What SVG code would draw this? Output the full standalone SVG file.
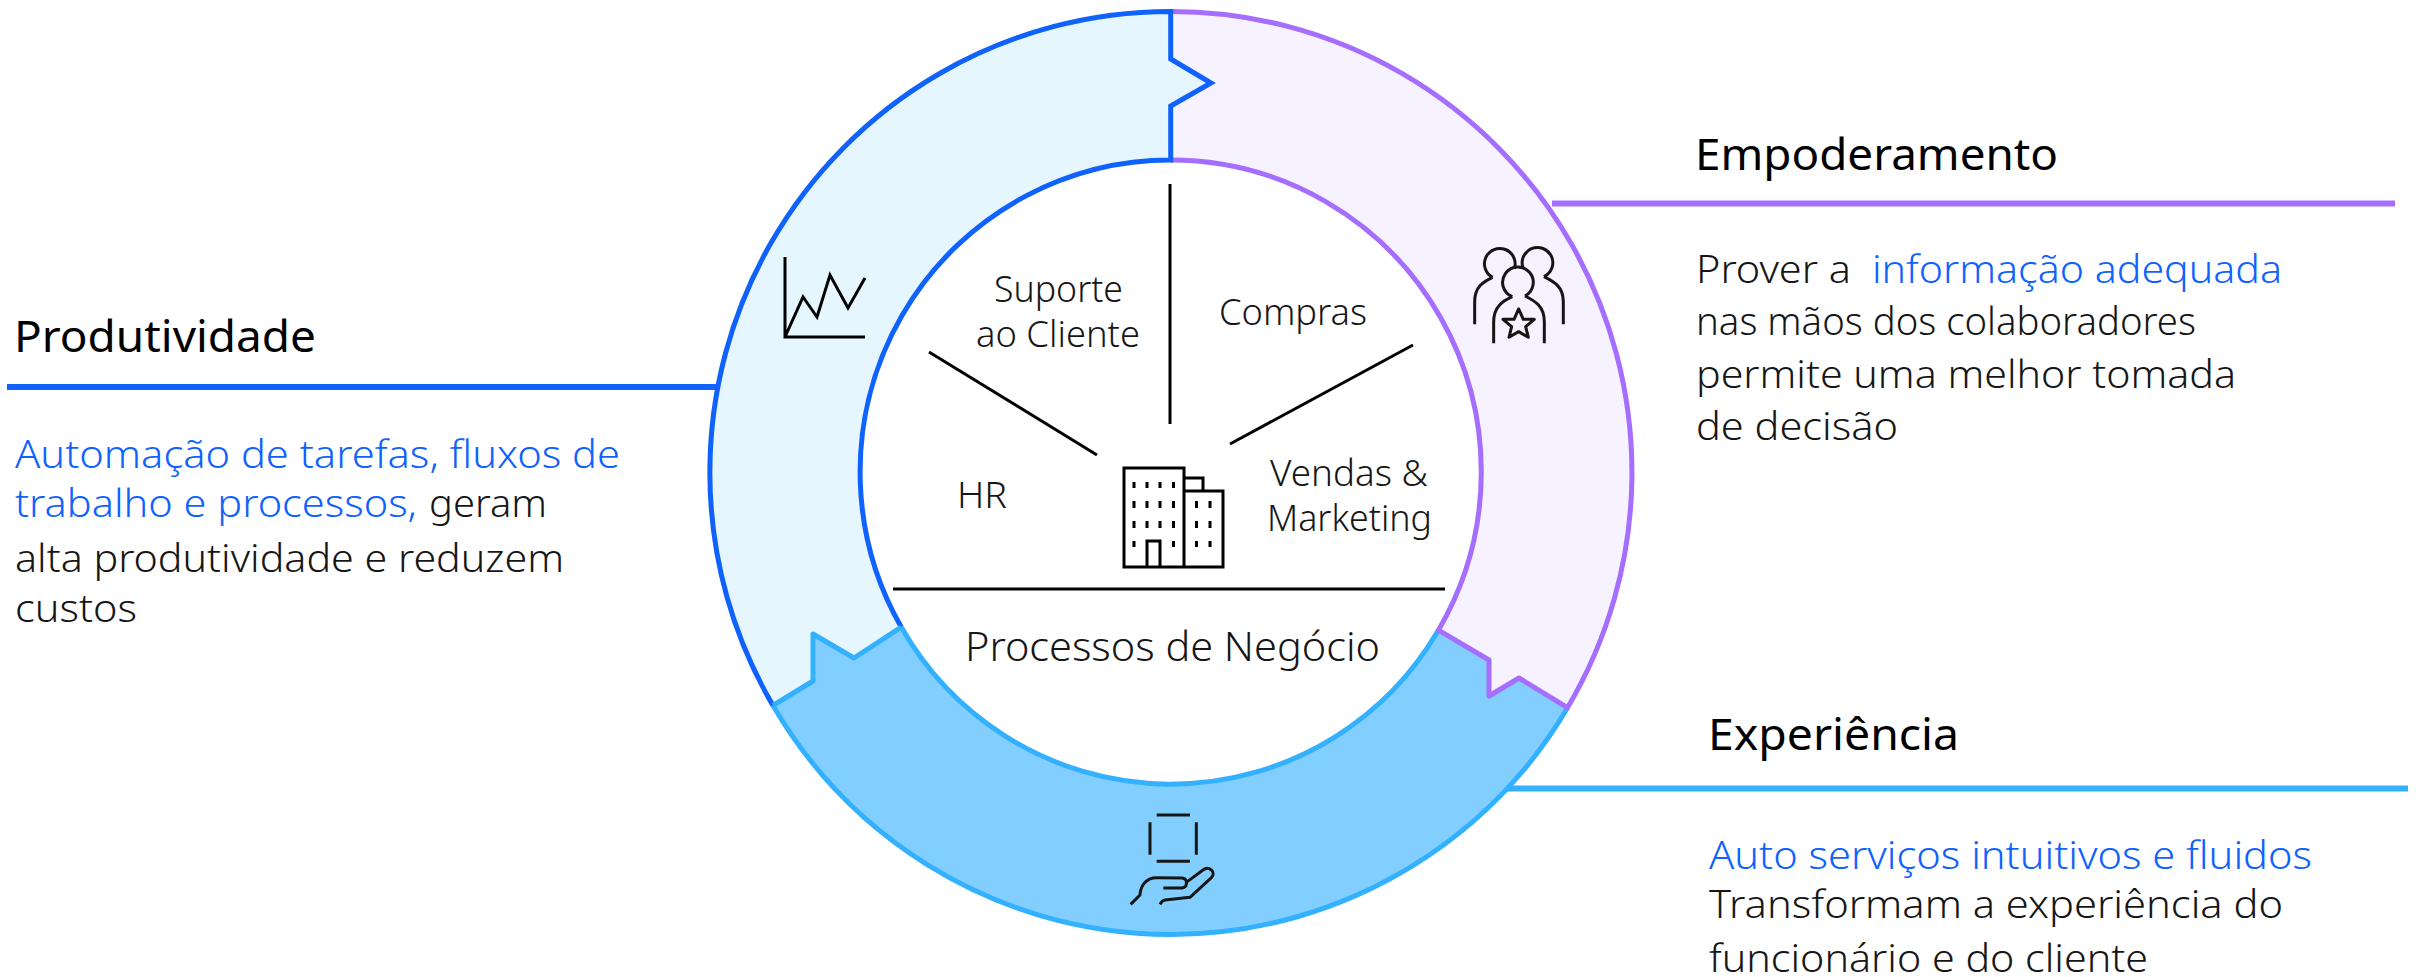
<svg xmlns="http://www.w3.org/2000/svg" width="2428" height="977" viewBox="0 0 2428 977">
<style>
text{font-family:"Noto Sans","Liberation Sans",sans-serif;font-weight:300;fill:#161616;font-size:39px}
.t{font-size:44px;font-weight:400;fill:#000}
.b{fill:#0f62fe}
.c{font-size:36px}
.big{font-size:41px}
.ln{fill:none;stroke:#000;stroke-width:3}
.ic{fill:none;stroke:#000;stroke-width:3}
.ps{fill:none;stroke:#161616;stroke-width:9;stroke-linejoin:round}
</style>
<rect width="2428" height="977" fill="#fff"/>
<g id="connectors" fill="none">
<line x1="7" y1="387" x2="717" y2="387" stroke="#0f62fe" stroke-width="6"/>
<line x1="1552" y1="203.500" x2="2395" y2="203.500" stroke="#a56eff" stroke-width="6"/>
<line x1="1507" y1="788.500" x2="2408" y2="788.500" stroke="#33b1ff" stroke-width="6"/>
<line class="ln" x1="1170" y1="184" x2="1170" y2="424"/>
<line class="ln" x1="929" y1="352" x2="1097" y2="455"/>
<line class="ln" x1="1413" y1="345" x2="1230" y2="444"/>
<line class="ln" x1="893" y1="589" x2="1445" y2="589"/>
</g>
<g id="experiencia-ring">
<path fill="#82cfff" d="M773 705.500A460.500 461 0 0 0 1567.500 707.700L1519 678L1489 696V660L1438.400 630.200A310.500 312 0 0 1 901.200 627.100L854 658L813 634V681Z"/>
<path fill="none" stroke="#33b1ff" stroke-width="5" d="M773 705.500A460.500 461 0 0 0 1567.500 707.700M1438.400 630.200A310.500 312 0 0 1 901.200 627.100"/>
</g>
<g id="empoderamento-ring">
<path fill="#f6f2ff" d="M1170.700 11.500A460.500 461 0 0 1 1567.500 707.700L1519 678L1489 696V660L1438.400 630.200A310.500 312 0 0 0 1170.700 160Z"/>
<path fill="none" stroke="#a56eff" stroke-width="5" stroke-linejoin="round" d="M1170.700 11.500A460.500 461 0 0 1 1567.500 707.700L1519 678L1489 696V660L1438.400 630.200A310.500 312 0 0 0 1170.700 160"/>
</g>
<g id="produtividade-ring">
<path fill="#e5f6ff" d="M1170.700 11.500A460.500 461 0 0 0 773 705.500L813 681V634L854 658L901.200 627.100A310.500 312 0 0 1 1170.700 160V106L1211 83L1170.700 59Z"/>
<path fill="none" stroke="#0f62fe" stroke-width="5" d="M773 705.500A460.500 461 0 0 1 1170.700 11.500V59L1211 83L1170.700 106V160A310.500 312 0 0 0 901.200 627.100"/>
</g>
<g id="experiencia-seam">
<path fill="none" stroke="#33b1ff" stroke-width="5" stroke-linejoin="round" d="M773 705.500L813 681V634L854 658L901.200 627.100"/>
</g>
<g id="icon-chart" class="ic">
<path d="M785 257V337H865M785 337L803 297L817 317L830 275L848 308L865 278"/>
</g>
<g id="icon-people" transform="translate(1420 220) scale(.3333)" class="ps">
<path d="M218 172A46 46 0 1 1 283 146M218 172C190 185 164 200 164 245V313"/>
<path d="M372 170A46 46 0 1 0 310 146M372 170C402 185 430 200 430 245V313"/>
<path d="M277 230A46 46 0 1 1 315 228M277 230C248 243 221 260 221 305V370M315 228C346 243 373 260 373 305V370"/>
<path d="M296 267L310 298L343 298L317 320L325 352L296 335L267 352L275 320L249 298L282 298Z"/>
</g>
<g id="icon-hand" transform="translate(1100 790) scale(.3333)" class="ps">
<path d="M170 75H270M170 214H270M150 97V194M289 97V194"/>
<path d="M92 343L120 315C122 285 140 263 170 263L245 264C258 264 262 275 258 287C254 294 248 294 240 294H190M262 275L312 238C330 228 348 248 335 262L270 322L195 330C187 331 184 337 180 343"/>
</g>
<g id="icon-building" fill="none" stroke="#000" stroke-width="3">
<path d="M1124 468H1184V567H1124ZM1184 491H1223V567H1184ZM1184 478H1203V491M1147 567V541H1160V567"/>
<path d="M1134 482v6M1147 482v6M1160 482v6M1173.500 482v6M1134 501v7M1147 501v7M1160 501v7M1173.500 501v7M1134 521v7M1147 521v7M1160 521v7M1173.500 521v7M1134 541v6M1173.500 541v6M1196.500 501v7M1210 501v7M1196.500 521v7M1210 521v7M1196.500 541v6M1210 541v6"/>
</g>
<g id="center-labels">
<text class="c" x="994" y="302" textLength="129" lengthAdjust="spacingAndGlyphs">Suporte</text>
<text class="c" x="976" y="347" textLength="164" lengthAdjust="spacingAndGlyphs">ao Cliente</text>
<text class="c" x="1219" y="325" textLength="148" lengthAdjust="spacingAndGlyphs">Compras</text>
<text class="c" x="957" y="508" textLength="50" lengthAdjust="spacingAndGlyphs">HR</text>
<text class="c" x="1270" y="486" textLength="158" lengthAdjust="spacingAndGlyphs">Vendas &amp;</text>
<text class="c" x="1267" y="531" textLength="165" lengthAdjust="spacingAndGlyphs">Marketing</text>
<text class="big" x="965" y="661" textLength="415" lengthAdjust="spacingAndGlyphs">Processos de Negócio</text>
</g>
<g id="produtividade">
<text class="t" x="14" y="352" textLength="302" lengthAdjust="spacingAndGlyphs">Produtividade</text>
<text class="b" x="15" y="468" textLength="605" lengthAdjust="spacingAndGlyphs">Automação de tarefas, fluxos de</text>
<text class="b" x="15" y="517" textLength="402" lengthAdjust="spacingAndGlyphs">trabalho e processos,</text>
<text x="429" y="517" textLength="118" lengthAdjust="spacingAndGlyphs">geram</text>
<text x="15" y="572" textLength="549" lengthAdjust="spacingAndGlyphs">alta produtividade e reduzem</text>
<text x="15" y="622" textLength="122" lengthAdjust="spacingAndGlyphs">custos</text>
</g>
<g id="empoderamento">
<text class="t" x="1695" y="170" textLength="363" lengthAdjust="spacingAndGlyphs">Empoderamento</text>
<text x="1696" y="283" textLength="155" lengthAdjust="spacingAndGlyphs">Prover a</text>
<text class="b" x="1872" y="283" textLength="410" lengthAdjust="spacingAndGlyphs">informação adequada</text>
<text x="1696" y="335" textLength="500" lengthAdjust="spacingAndGlyphs">nas mãos dos colaboradores</text>
<text x="1696" y="388" textLength="540" lengthAdjust="spacingAndGlyphs">permite uma melhor tomada</text>
<text x="1696" y="440" textLength="202" lengthAdjust="spacingAndGlyphs">de decisão</text>
</g>
<g id="experiencia">
<text class="t" x="1708" y="750" textLength="251" lengthAdjust="spacingAndGlyphs">Experiência</text>
<text class="b" x="1709" y="869" textLength="603" lengthAdjust="spacingAndGlyphs">Auto serviços intuitivos e fluidos</text>
<text x="1709" y="918" textLength="574" lengthAdjust="spacingAndGlyphs">Transformam a experiência do</text>
<text x="1709" y="972" textLength="439" lengthAdjust="spacingAndGlyphs">funcionário e do cliente</text>
</g>
</svg>
